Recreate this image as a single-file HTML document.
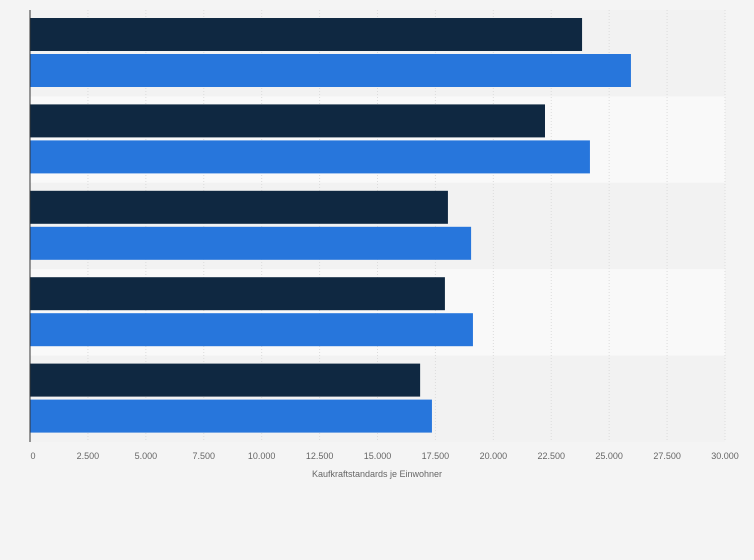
<!DOCTYPE html>
<html><head><meta charset="utf-8"><style>
html,body{margin:0;padding:0;background:#f4f4f4;}
svg{display:block;font-family:"Liberation Sans",sans-serif;}
</style></head><body>
<svg id="chart" width="754" height="560"></svg>
<script>
const categories=["Gruppe 1","Gruppe 2","Gruppe 3","Gruppe 4","Gruppe 5"];
const seriesDark=[23830,22230,18040,17910,16840];
const seriesBlue=[25940,24170,19040,19120,17350];
const tickValues=[0,2500,5000,7500,10000,12500,15000,17500,20000,22500,25000,27500,30000];
const tickLabels=["0","2.500","5.000","7.500","10.000","12.500","15.000","17.500","20.000","22.500","25.000","27.500","30.000"];
const NS="http://www.w3.org/2000/svg";
const svg=document.getElementById('chart');
const x0=30,x1=725,yTop=10,yBot=442,maxV=30000;
const xs=v=>x0+(v/maxV)*(x1-x0);
const band=(yBot-yTop)/categories.length;
function mk(t,a){const e=document.createElementNS(NS,t);for(const k in a)e.setAttribute(k,a[k]);svg.appendChild(e);return e;}
categories.forEach((c,i)=>{
  const r=mk('rect',{x:x0,y:yTop+i*band,width:x1-x0,height:band,fill:i%2?'#f9f9f9':'#f2f2f2'});
  
  
});
tickValues.forEach((v,i)=>{
  if(i>0){const g=mk('line',{x1:xs(v),x2:xs(v),y1:yTop,y2:yBot,stroke:'#dcdcdc','stroke-dasharray':'1,2'});
  
  }
  const t=mk('text',{x:xs(v)+(i==0?3:0),y:459,'font-size':9,fill:'#666','text-anchor':'middle'});
  t.textContent=tickLabels[i];
  
  
});
categories.forEach((c,i)=>{
  const by=yTop+i*band;
  const d=mk('rect',{x:x0,y:by+8,width:xs(seriesDark[i])-x0,height:33,fill:'#0f2841'});
  
  
  const b=mk('rect',{x:x0,y:by+44,width:xs(seriesBlue[i])-x0,height:33,fill:'#2776dc'});
  
  
});
const ax=mk('line',{x1:x0,x2:x0,y1:yTop,y2:yBot,stroke:'#333','stroke-width':1});


const tt=mk('text',{x:377,y:477,'font-size':9,fill:'#666','text-anchor':'middle'});
tt.textContent='Kaufkraftstandards je Einwohner';


</script>
</body></html>
